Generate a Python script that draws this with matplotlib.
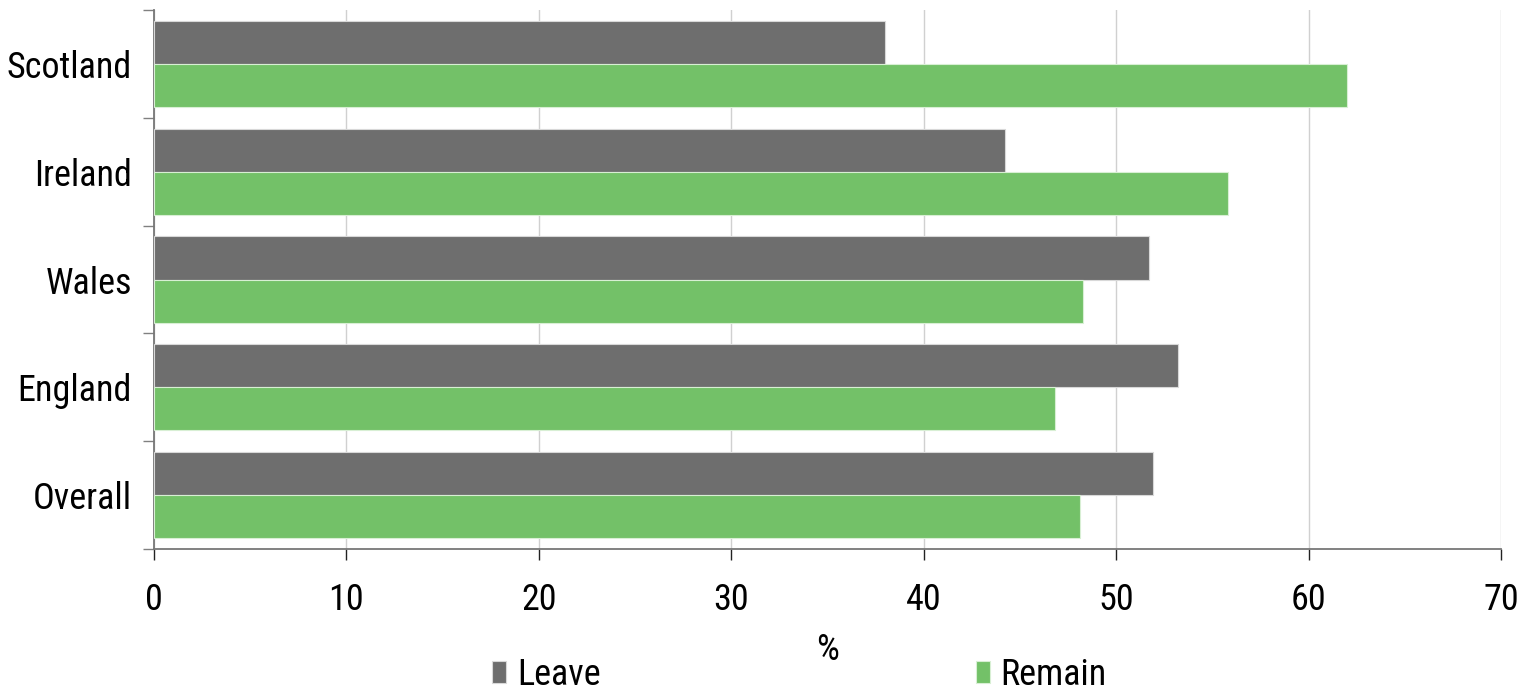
import numpy as np
import matplotlib
matplotlib.use("Agg")
import matplotlib.pyplot as plt

plt.rcParams["font.family"] = ["Liberation Sans Narrow", "Arial Narrow",
                               "Roboto Condensed", "Archivo Narrow",
                               "Liberation Sans", "DejaVu Sans"]

# -- data --------------------------------------------------------------
regions = ["Scotland", "Ireland", "Wales", "England", "Overall"]
leave = [38.0, 44.2, 51.7, 53.2, 51.9]
remain = [62.0, 55.8, 48.3, 46.8, 48.1]
x_ticks = [0, 10, 20, 30, 40, 50, 60, 70]

C_LEAVE = "#6e6e6e"
C_REMAIN = "#73c168"
FS = 26

fig = plt.figure(figsize=(15.26, 6.9), dpi=100)
ax = fig.add_axes([0.1009, 0.2043, 0.8827, 0.7812])

y = np.arange(len(regions))
h = 0.4
ax.barh(y - h / 2, leave, height=h, color=C_LEAVE, edgecolor="#d8d8d8",
        linewidth=0.8, label="Leave", zorder=3)
ax.barh(y + h / 2, remain, height=h, color=C_REMAIN, edgecolor="#d8efd4",
        linewidth=0.8, label="Remain", zorder=3)

ax.set_xlim(0, 70)
ax.set_ylim(len(regions) - 0.5, -0.5)

# category labels at centres, tick marks at boundaries
ax.set_yticks(np.arange(len(regions) + 1) - 0.5)
ax.set_yticklabels([])
ax.set_yticks(y, minor=True)
ax.set_yticklabels(regions, minor=True, fontsize=FS)
ax.tick_params(axis="y", which="major", length=8, width=1, color="#808080",
               direction="out")
ax.tick_params(axis="y", which="minor", length=0, pad=16)

ax.set_xticks(x_ticks)
ax.tick_params(axis="x", which="major", length=8, width=1, color="#222222",
               direction="out", pad=16, labelsize=FS)
ax.xaxis.grid(True, color="#d0d0d0", linewidth=1, zorder=0)
ax.set_axisbelow(True)

for side in ("top", "right"):
    ax.spines[side].set_visible(False)
for side in ("left", "bottom"):
    ax.spines[side].set_color("#777777")
    ax.spines[side].set_linewidth(1.3)

ax.set_xlabel("%", fontsize=FS, labelpad=10)

fig.legend(loc="lower center", bbox_to_anchor=(0.524, -0.03), ncol=2,
           frameon=False, fontsize=FS, handlelength=0.38, handleheight=0.55,
           handletextpad=0.3, columnspacing=10.4, borderpad=0)

fig.savefig("out.png", dpi=100)
